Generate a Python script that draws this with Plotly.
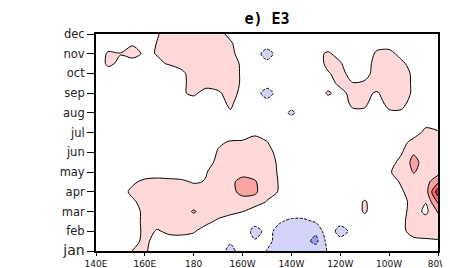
import plotly.graph_objects as go

# longitude grid (degrees east) and month grid (half-month steps)
lons = [140, 145, 150, 155, 160, 165, 170, 175, 180, 185, 190, 195, 200, 205, 210,
        215, 220, 225, 230, 235, 240, 245, 250, 255, 260, 265, 270, 275, 280]
months = [1, 1.5, 2, 2.5, 3, 3.5, 4, 4.5, 5, 5.5, 6, 6.5, 7, 7.5, 8, 8.5, 9, 9.5,
          10, 10.5, 11, 11.5, 12]

lon_ticks = [140, 160, 180, 200, 220, 240, 260, 280]
lon_labels = ['140E', '160E', '180', '160W', '140W', '120W', '100W', '80W']
month_ticks = [1, 2, 3, 4, 5, 6, 7, 8, 9, 10, 11, 12]
month_labels = ["<span style='font-size:14px'>jan</span>", 'feb', 'mar', 'apr', 'may', 'jun',
                'jul', 'aug', 'sep', 'oct', 'nov', 'dec']

title_text = 'e) E3'

# field values, one row per half month (jan -> dec)
z = [
    [0, 0, 0.2, 1.05, 1.2, 0.3, 0.1, 0.1, 0, -0.2, -0.5, -1.35, -0.5, -0.3, -1.05, -1.4, -1.5, -1.5, -1.4, -0.95, -0.3, 0, 0, 0, 0, 0.1, 0.3, 0.3, 0.3],
    [0, 0, 0.1, 0.6, 1.3, 0.5, 0.6, 0.6, 0.5, 0.2, -0.3, -0.85, -0.5, -0.9, -0.7, -1.4, -1.5, -1.6, -2.3, -0.6, -0.6, -0.3, 0, 0, 0, 0.4, 0.8, 0.85, 0.9],
    [0, 0, 0, 0.2, 1.4, 0.9, 1.2, 1.25, 1.1, 0.5, 0.1, -0.2, -0.3, -1.4, -0.7, -1.3, -1.4, -1.45, -1.8, -0.3, -1.5, -0.7, -0.2, 0, 0, 0.8, 1.3, 1.4, 1.5],
    [0, 0, 0, 0.5, 1.3, 1.4, 1.5, 1.5, 1.5, 1.3, 0.8, 0.4, 0.1, -0.6, -0.2, -0.9, -1.2, -1.2, -0.9, -0.1, -0.6, 0.1, 0.4, 0.1, 0, 0.8, 1.4, 1.5, 1.6],
    [0, 0, 0.1, 0.4, 1.35, 1.6, 1.6, 1.55, 2.1, 1.55, 1.5, 1.3, 1.02, 0.5, 0.2, 0, -0.5, -0.5, -0.3, 0, 0.1, 0.3, 1.15, 0.3, 0.2, 0.6, 1.5, 0.75, 2.1],
    [0, 0, 0.3, 0.8, 1.5, 1.6, 1.6, 1.6, 1.5, 1.6, 1.6, 1.6, 1.6, 1.5, 0.95, 0.4, 0.1, 0, 0, 0, 0.1, 0.2, 1.15, 0.2, 0.1, 0.7, 1.3, 1.05, 3.2],
    [0, 0.1, 0.5, 1.3, 1.6, 1.6, 1.6, 1.6, 1.6, 1.6, 1.6, 1.7, 2.3, 2.2, 1.3, 0.95, 0.3, 0, 0, 0, 0, 0, 0.1, 0, 0.3, 0.9, 1.4, 1.5, 4.6],
    [0, 0, 0.2, 0.8, 1.3, 1.4, 1.3, 1.2, 0.9, 1.05, 1.5, 1.8, 2.3, 2.1, 1.4, 0.95, 0.3, 0, 0, 0, 0, 0, 0, 0.2, 0.6, 1.1, 1.5, 1.6, 2.8],
    [0, 0, 0, 0.1, 0.3, 0.4, 0.4, 0.4, 0.4, 0.95, 1.4, 1.6, 1.7, 1.6, 1.4, 0.9, 0.3, 0, 0, 0, 0, 0, 0, 0.3, 0.9, 1.4, 2.05, 1.7, 1.6],
    [0, 0, 0, 0, 0, 0.1, 0.2, 0.3, 0.3, 0.5, 1.3, 1.5, 1.5, 1.5, 1.4, 0.85, 0.3, 0, 0, 0, 0, 0, 0, 0.2, 0.6, 1.3, 2.3, 1.6, 1.9],
    [0, 0, 0, 0, 0, 0, 0, 0.1, 0.2, 0.3, 1.1, 1.5, 1.5, 1.5, 1.3, 0.7, 0.2, 0, 0, 0, 0, 0, 0, 0, 0.4, 0.9, 1.9, 1.6, 1.8],
    [0, 0, 0, 0, 0, 0, 0, 0, 0.1, 0.3, 0.85, 1.1, 1.15, 1.3, 1.05, 0.4, 0, 0, 0, 0, 0, 0, 0, 0, 0.2, 0.6, 1.4, 1.5, 1.5],
    [0, 0, 0, 0, 0, 0, 0, 0, 0, 0.1, 0.3, 0.5, 0.5, 0.85, 0.6, 0.2, 0, 0, 0, 0, 0, 0, 0, 0, 0, 0.2, 0.5, 1.3, 1.1],
    [0, 0, 0, 0, 0, 0, 0, 0, 0, 0, 0, 0, 0, 0, 0, 0, 0, 0, 0, 0, 0, 0, 0, 0, 0, 0, 0.2, 0.7, 0.6],
    [0, 0, 0, 0, 0, 0, 0, 0, 0, 0, 0.3, 0.9, 0.3, 0, 0, -0.2, -1.3, -0.2, 0, 0, 0, 0.8, 0.85, 0.5, 0.85, 0.85, 0.3, 0, 0],
    [0, 0, 0, 0, 0, 0, 0.2, 0.5, 0.6, 0.4, 0.6, 1.2, 0.45, 0, -0.3, -0.2, -0.3, 0, 0.1, 0.4, 0.5, 1.2, 1.15, 0.6, 1.3, 1.3, 0.6, 0, 0],
    [0, 0, 0, 0, 0, 0.1, 0.2, 0.9, 1.15, 0.7, 0.85, 1.4, 0.7, -0.2, -1.8, -0.2, 0, 0, 0.3, 1.15, 0.6, 1.4, 1.2, 0.9, 1.5, 1.6, 0.8, 0.1, 0],
    [0, 0, 0, 0, 0, 0.2, 0.3, 0.8, 1.3, 1.3, 1.4, 1.6, 0.8, 0, -0.2, 0, 0, 0, 0, 0.5, 1.3, 1.05, 1.2, 1.5, 1.6, 1.6, 0.8, 0.1, 0],
    [0, 0.3, 0, 0, 0, 0.2, 0.3, 0.8, 1.4, 1.5, 1.6, 1.6, 0.8, 0, -0.2, 0, 0, 0, 0.1, 0.9, 1.4, 0.5, 0.5, 1.6, 1.7, 1.5, 0.8, 0.1, 0],
    [0, 1.3, 0.7, 0.5, 0.3, 0.8, 1.1, 1.3, 1.5, 1.6, 1.6, 1.5, 0.8, 0, -0.5, 0, 0, 0.1, 0.4, 1.3, 1.1, 0.3, 0.4, 1.5, 1.6, 1.2, 0.6, 0, 0],
    [0, 1.2, 1.05, 1.4, 0.8, 1.05, 1.6, 1.7, 1.7, 1.7, 1.6, 1.3, 0.5, -0.2, -1.8, -0.2, 0, 0.2, 0.7, 1.15, 0.6, 0.2, 0.3, 1.2, 1.3, 0.7, 0.2, 0, 0],
    [0, 0.3, 0.4, 0.9, 0.4, 1.05, 1.6, 1.7, 1.7, 1.6, 1.5, 1.15, 0.4, 0, -0.1, 0, 0, 0, 0.2, 0.4, 0.1, 0, 0, 0.6, 0.6, 0.2, 0, 0, 0],
    [0, 0, 0, 0, 0.3, 0.9, 1.5, 1.6, 1.6, 1.5, 1.3, 0.75, 0.2, 0, 0, 0, 0, 0, 0, 0, 0, 0, 0, 0, 0, 0, 0, 0, 0],
]

BLUE2 = '#9b9bf2'
BLUE1 = '#d4d4fa'
WHITE = '#ffffff'
PINK1 = '#ffd9d9'
PINK2 = '#f9a3a3'
RED1 = '#f06868'
RED2 = '#e42626'

# bands: <-2 | -2..-1 | -1..1 | 1..2 | 2..3 | 3..4 | >4  (levels -3..5 step 1)
colorscale = [
    [0.0, BLUE2], [0.167, BLUE2],
    [0.167, BLUE1], [0.278, BLUE1],
    [0.278, WHITE], [0.5, WHITE],
    [0.5, PINK1], [0.611, PINK1],
    [0.611, PINK2], [0.722, PINK2],
    [0.722, RED1], [0.833, RED1],
    [0.833, RED2], [1.0, RED2],
]

SM = 0.8
fig = go.Figure()
fig.add_trace(go.Contour(
    x=lons, y=months, z=z, autocontour=False,
    contours=dict(start=-3, end=5, size=1, coloring='fill'),
    colorscale=colorscale, showscale=False,
    line=dict(width=0, smoothing=SM), hoverinfo='skip'))
fig.add_trace(go.Contour(
    x=lons, y=months, z=z, autocontour=False,
    contours=dict(start=1, end=5, size=1, coloring='none'),
    showscale=False, line=dict(color='black', width=1, smoothing=SM), hoverinfo='skip'))
fig.add_trace(go.Contour(
    x=lons, y=months, z=z, autocontour=False,
    contours=dict(start=-3, end=-1, size=1, coloring='none'),
    showscale=False, line=dict(color='black', width=1, dash='3px,1.5px', smoothing=SM),
    hoverinfo='skip'))

# the page body adds an 8px offset, so the figure is 442x260 placed at (8, 8)
fig.update_layout(
    width=442, height=260,
    margin=dict(l=88, r=12, t=26, b=17, autoexpand=False),
    paper_bgcolor='white', plot_bgcolor='white',
    showlegend=False,
    title=dict(text='<b>' + title_text + '</b>', x=0.5, xref='paper', xanchor='center',
               y=1 - 11 / 260, yanchor='middle',
               font=dict(family='DejaVu Sans Mono', size=15, color='black')),
)
fig.update_xaxes(range=[140, 280], tickvals=lon_ticks, ticktext=lon_labels,
                 ticks='outside', ticklen=3, tickwidth=1, tickcolor='black',
                 showline=True, linewidth=2, linecolor='black', mirror=True,
                 showgrid=False, zeroline=False, automargin=False,
                 tickfont=dict(family='DejaVu Sans', size=9, color='#111'))
fig.update_yaxes(range=[1, 12], tickvals=month_ticks, ticktext=month_labels,
                 ticks='outside', ticklen=7, tickwidth=1, tickcolor='black',
                 showline=True, linewidth=2, linecolor='black', mirror=True,
                 showgrid=False, zeroline=False, automargin=False,
                 tickfont=dict(family='DejaVu Sans', size=11.5, color='#222'))

fig.write_html('out.html')
